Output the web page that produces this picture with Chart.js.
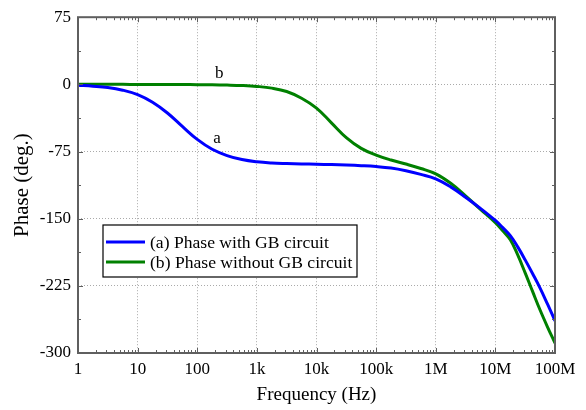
<!DOCTYPE html>
<html>
<head>
<meta charset="utf-8">
<script src="https://cdn.jsdelivr.net/npm/chart.js@4.4.0/dist/chart.umd.min.js"></script>
<style>
  html, body { margin: 0; padding: 0; background: #fff; }
  #wrap { width: 586px; height: 410px; }
</style>
</head>
<body>
<div id="wrap"><canvas id="phaseChart" width="586" height="410"></canvas></div>
<script>
// frequency points (Hz), shared by both curves
const freqs = [1, 1.78, 3.16, 5.62, 10, 17.8, 31.6, 56.2, 100, 178, 316, 562,
  1e3, 1.78e3, 3.16e3, 5.62e3, 1e4, 1.78e4, 3.16e4, 5.62e4, 1e5, 1.78e5, 3.16e5, 5.62e5,
  1e6, 1.78e6, 3.16e6, 5.62e6, 1e7, 1.33e7, 1.78e7, 2.37e7, 3.16e7, 4.22e7, 5.62e7, 7.5e7, 1e8];

// (a) with GB circuit
const phaseA = [-1, -2, -3.5, -6.5, -11.5, -20, -32, -47, -61.5, -72.5, -79.5, -84,
  -86.5, -87.8, -88.4, -88.8, -89.2, -89.6, -90.1, -90.8, -91.8, -93.5, -96.5, -100.5,
  -105.5, -114.5, -126, -138.5, -152, -160, -169, -181.5, -196, -211.5, -227.5, -245.5, -264];

// (b) without GB circuit
const phaseB = [0, 0, 0, 0, -0.1, -0.1, -0.2, -0.2, -0.3, -0.5, -0.8, -1.3,
  -2.3, -4.2, -8, -15.5, -26.5, -43, -59.5, -71.5, -79, -84.5, -89, -94,
  -100, -110.5, -124.5, -139.5, -154.5, -163.5, -173.5, -190.5, -210.5, -231.5, -252, -271, -289];

const seriesLabels = ['(a) Phase with GB circuit', '(b) Phase without GB circuit'];
const xTickValues = [1, 10, 100, 1e3, 1e4, 1e5, 1e6, 1e7, 1e8];
const xTickLabels = ['1', '10', '100', '1k', '10k', '100k', '1M', '10M', '100M'];
const yTickValues = [75, 0, -75, -150, -225, -300];

// small letters placed next to the curves
const curveTags = ['a', 'b'];
const tagFreq = [215, 235];
const tagPhase = [-61, 12];

const serif = "'Liberation Serif', 'Times New Roman', serif";
const frameColor = '#5f5f5f';

function toPoints(ys) {
  return freqs.map((f, i) => ({ x: f, y: ys[i] }));
}

// frame, inward ticks, tags and legend box
const decorPlugin = {
  id: 'decor',
  afterDatasetsDraw(chart) {
    const ctx = chart.ctx;
    const xs = chart.scales.x, ys = chart.scales.y;
    const a = chart.chartArea;
    ctx.save();
    ctx.strokeStyle = frameColor;
    ctx.lineWidth = 1;
    ctx.beginPath();
    // x ticks (major + minor) on bottom and top
    xTickValues.forEach((d, i) => {
      const px = Math.round(xs.getPixelForValue(d)) + 0.5;
      ctx.moveTo(px, a.bottom); ctx.lineTo(px, a.bottom - 5);
      ctx.moveTo(px, a.top); ctx.lineTo(px, a.top + 5);
      if (i < xTickValues.length - 1) {
        for (let k = 2; k <= 9; k++) {
          const mx = Math.round(xs.getPixelForValue(d * k)) + 0.5;
          ctx.moveTo(mx, a.bottom); ctx.lineTo(mx, a.bottom - 3);
          ctx.moveTo(mx, a.top); ctx.lineTo(mx, a.top + 3);
        }
      }
    });
    // y ticks on left and right
    yTickValues.forEach((v, i) => {
      const py = Math.round(ys.getPixelForValue(v)) + 0.5;
      ctx.moveTo(a.left, py); ctx.lineTo(a.left + 5, py);
      ctx.moveTo(a.right, py); ctx.lineTo(a.right - 5, py);
      if (i < yTickValues.length - 1) {
        const my = Math.round(ys.getPixelForValue(v - 37.5)) + 0.5;
        ctx.moveTo(a.left, my); ctx.lineTo(a.left + 3, my);
        ctx.moveTo(a.right, my); ctx.lineTo(a.right - 3, my);
      }
    });
    ctx.stroke();

    ctx.lineWidth = 2;
    ctx.strokeRect(a.left, a.top, a.right - a.left, a.bottom - a.top);

    // curve tags
    ctx.fillStyle = '#000';
    ctx.font = '17px ' + serif;
    ctx.textAlign = 'center';
    ctx.textBaseline = 'middle';
    curveTags.forEach((t, i) => {
      ctx.fillText(t, xs.getPixelForValue(tagFreq[i]), ys.getPixelForValue(tagPhase[i]));
    });

    // legend box
    const bx = 103, by = 225, bw = 254, bh = 52;
    ctx.fillStyle = '#fff';
    ctx.fillRect(bx, by, bw, bh);
    ctx.strokeStyle = '#000';
    ctx.lineWidth = 1.2;
    ctx.strokeRect(bx, by, bw, bh);
    ctx.font = '17.6px ' + serif;
    ctx.textAlign = 'left';
    chart.data.datasets.forEach((ds, i) => {
      const ly = by + 17 + i * 20;
      ctx.strokeStyle = ds.borderColor;
      ctx.lineWidth = 3;
      ctx.beginPath();
      ctx.moveTo(106, ly); ctx.lineTo(145, ly);
      ctx.stroke();
      ctx.fillStyle = '#000';
      ctx.fillText(ds.label, 150, ly + 1);
    });
    ctx.restore();
  }
};

new Chart(document.getElementById('phaseChart').getContext('2d'), {
  type: 'line',
  data: {
    datasets: [
      { label: seriesLabels[0], data: toPoints(phaseA), borderColor: '#0000ff', borderWidth: 3,
        pointRadius: 0, tension: 0.4, fill: false },
      { label: seriesLabels[1], data: toPoints(phaseB), borderColor: '#008000', borderWidth: 3,
        pointRadius: 0, tension: 0.4, fill: false }
    ]
  },
  options: {
    responsive: false,
    animation: false,
    layout: { padding: { left: 0, right: 31, top: 14, bottom: 0 } },
    plugins: { legend: { display: false }, tooltip: { enabled: false } },
    scales: {
      x: {
        type: 'logarithmic',
        min: 1, max: 1e8,
        afterBuildTicks: s => { s.ticks = xTickValues.map(v => ({ value: v })); },
        afterFit: s => { s.height = 57; },
        ticks: {
          autoSkip: false, maxRotation: 0, padding: 6, color: '#000',
          font: { family: serif, size: 17 },
          callback: (v) => xTickLabels[xTickValues.indexOf(v)]
        },
        grid: { color: '#aaaaaa', lineWidth: 1, drawTicks: false },
        border: { display: false, dash: [1, 2] },
        title: { display: true, text: 'Frequency (Hz)', color: '#000',
          font: { family: serif, size: 19 }, padding: { top: 0, bottom: 4 } }
      },
      y: {
        min: -300, max: 75,
        afterBuildTicks: s => { s.ticks = yTickValues.map(v => ({ value: v })); },
        afterFit: s => { s.width = 78; },
        ticks: { padding: 7, color: '#000', font: { family: serif, size: 17 } },
        grid: { color: '#aaaaaa', lineWidth: 1, drawTicks: false },
        border: { display: false, dash: [1, 2] },
        title: { display: true, text: 'Phase (deg.)', color: '#000',
          font: { family: serif, size: 21 }, padding: { top: 10, bottom: 0 } }
      }
    }
  },
  plugins: [decorPlugin]
});
</script>
</body>
</html>
